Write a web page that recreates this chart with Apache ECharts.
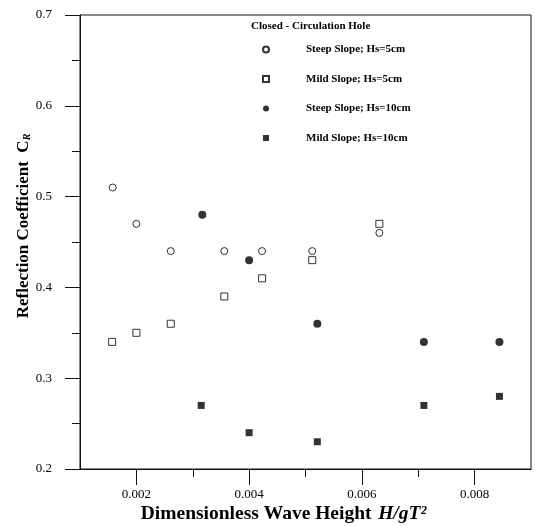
<!DOCTYPE html>
<html lang="en">
<head>
    <meta charset="UTF-8">
    <title>Reflection Coefficient</title>
    <style>
        html, body { margin: 0; padding: 0; background: #fff; }
    </style>
</head>
<body>
    <div id="chart" style="width: 535px;height:526px;"></div>
    <script src="https://cdn.jsdelivr.net/npm/echarts@6/dist/echarts.min.js"></script>
    <script>
        // 数据
        let seriesNames = ['Steep Slope; Hs=5cm', 'Mild Slope; Hs=5cm', 'Steep Slope; Hs=10cm', 'Mild Slope; Hs=10cm'];

        let steep5X = [0.00158, 0.0020, 0.00261, 0.00356, 0.00423, 0.00512, 0.00631];
        let steep5Y = [0.51, 0.47, 0.44, 0.44, 0.44, 0.44, 0.46];

        let mild5X = [0.00157, 0.0020, 0.00261, 0.00356, 0.00423, 0.00512, 0.00631];
        let mild5Y = [0.34, 0.35, 0.36, 0.39, 0.41, 0.43, 0.47];

        let steep10X = [0.00317, 0.0040, 0.00521, 0.0071, 0.00844];
        let steep10Y = [0.48, 0.43, 0.36, 0.34, 0.34];

        let mild10X = [0.00315, 0.0040, 0.00521, 0.0071, 0.00844];
        let mild10Y = [0.27, 0.24, 0.23, 0.27, 0.28];

        let xMajorTicks = [0.002, 0.004, 0.006, 0.008];
        let xMinorTicks = [0.003, 0.005, 0.007];
        let yMajorTicks = [0.2, 0.3, 0.4, 0.5, 0.6, 0.7];
        let yMinorTicks = [0.25, 0.35, 0.45, 0.55, 0.65];

        function pairs(xs, ys) {
            return xs.map(function(x, i) { return [x, ys[i]]; });
        }

        let font = '"Liberation Serif", "Times New Roman", serif';
        let ink = '#000';
        let lineStyle = { color: '#111', width: 1 };

        let myChart = echarts.init(document.getElementById('chart'));

        let chartOption = {
            animation: false,
            title: {
                text: 'Closed - Circulation Hole',
                left: 251,
                top: 21,
                padding: 0,
                textStyle: { fontFamily: font, fontSize: 11, fontWeight: 'bold', color: ink }
            },
            legend: {
                orient: 'vertical',
                left: 262,
                top: 44,
                padding: 0,
                itemWidth: 6,
                itemHeight: 6,
                itemGap: 18.5,
                data: seriesNames,
                textStyle: { fontFamily: font, fontSize: 11, fontWeight: 'bold', color: ink, padding: [0, 0, 0, 32] }
            },
            grid: {
                left: 80,
                top: 15,
                right: 4,
                bottom: 57,
                containLabel: false,
                outerBoundsMode: 'none',
                show: true,
                borderColor: '#111',
                borderWidth: 1
            },
            xAxis: [{
                type: 'value',
                min: 0.001,
                max: 0.009,
                interval: 0.001,
                position: 'bottom',
                name: '{b|Dimensionless Wave Height}  {i|H/gT²}',
                nameLocation: 'middle',
                nameGap: 35,
                nameMoveOverlap: false,
                nameTextStyle: {
                    padding: [0, 44, 0, 0],
                    rich: {
                        b: { fontFamily: font, fontSize: 19.5, fontWeight: 'bold', color: ink },
                        i: { fontFamily: font, fontSize: 19.5, fontWeight: 'bold', fontStyle: 'italic', color: ink }
                    }
                },
                axisLine: { show: true, onZero: false, lineStyle: lineStyle },
                axisTick: { show: true, inside: false, length: 16, customValues: xMajorTicks, lineStyle: lineStyle },
                axisLabel: {
                    customValues: xMajorTicks,
                    margin: 19,
                    fontFamily: font,
                    fontSize: 13,
                    color: ink,
                    formatter: function(v) { return v.toFixed(3); }
                },
                splitLine: { show: false }
            }, {
                type: 'value',
                min: 0.001,
                max: 0.009,
                interval: 0.001,
                position: 'bottom',
                axisLine: { show: false },
                axisTick: { show: true, inside: false, length: 8, customValues: xMinorTicks, lineStyle: lineStyle },
                axisLabel: { show: false },
                splitLine: { show: false }
            }],
            yAxis: [{
                type: 'value',
                min: 0.2,
                max: 0.7,
                interval: 0.1,
                position: 'left',
                name: 'Reflection Coefficient  C{s|R}',
                nameLocation: 'middle',
                nameGap: 48,
                nameMoveOverlap: false,
                nameTextStyle: {
                    fontFamily: font,
                    fontSize: 17,
                    fontWeight: 'bold',
                    color: ink,
                    padding: [0, 0, 0, 32],
                    rich: {
                        s: { fontFamily: font, fontSize: 10, fontWeight: 'bold', fontStyle: 'italic', color: ink, verticalAlign: 'bottom', padding: [6, 0, 0, 0] }
                    }
                },
                axisLine: { show: true, onZero: false, lineStyle: lineStyle },
                axisTick: { show: true, length: 15, customValues: yMajorTicks, lineStyle: lineStyle },
                axisLabel: {
                    customValues: yMajorTicks,
                    margin: 28,
                    fontFamily: font,
                    fontSize: 13,
                    color: ink,
                    formatter: function(v) { return v.toFixed(1); }
                },
                splitLine: { show: false }
            }, {
                type: 'value',
                min: 0.2,
                max: 0.7,
                interval: 0.1,
                position: 'left',
                axisLine: { show: false },
                axisTick: { show: true, length: 8, customValues: yMinorTicks, lineStyle: lineStyle },
                axisLabel: { show: false },
                splitLine: { show: false }
            }],
            series: [{
                name: seriesNames[0],
                type: 'scatter',
                symbol: 'circle',
                symbolSize: 7,
                itemStyle: { color: '#fff', borderColor: ink, borderWidth: 1 },
                data: pairs(steep5X, steep5Y)
            }, {
                name: seriesNames[1],
                type: 'scatter',
                symbol: 'rect',
                symbolSize: 7,
                itemStyle: { color: '#fff', borderColor: ink, borderWidth: 1 },
                data: pairs(mild5X, mild5Y)
            }, {
                name: seriesNames[2],
                type: 'scatter',
                symbol: 'circle',
                symbolSize: 8,
                itemStyle: { color: ink },
                data: pairs(steep10X, steep10Y)
            }, {
                name: seriesNames[3],
                type: 'scatter',
                symbol: 'rect',
                symbolSize: 7,
                itemStyle: { color: ink },
                data: pairs(mild10X, mild10Y)
            }]
        };

        myChart.setOption(chartOption);
    </script>
</body>
</html>
